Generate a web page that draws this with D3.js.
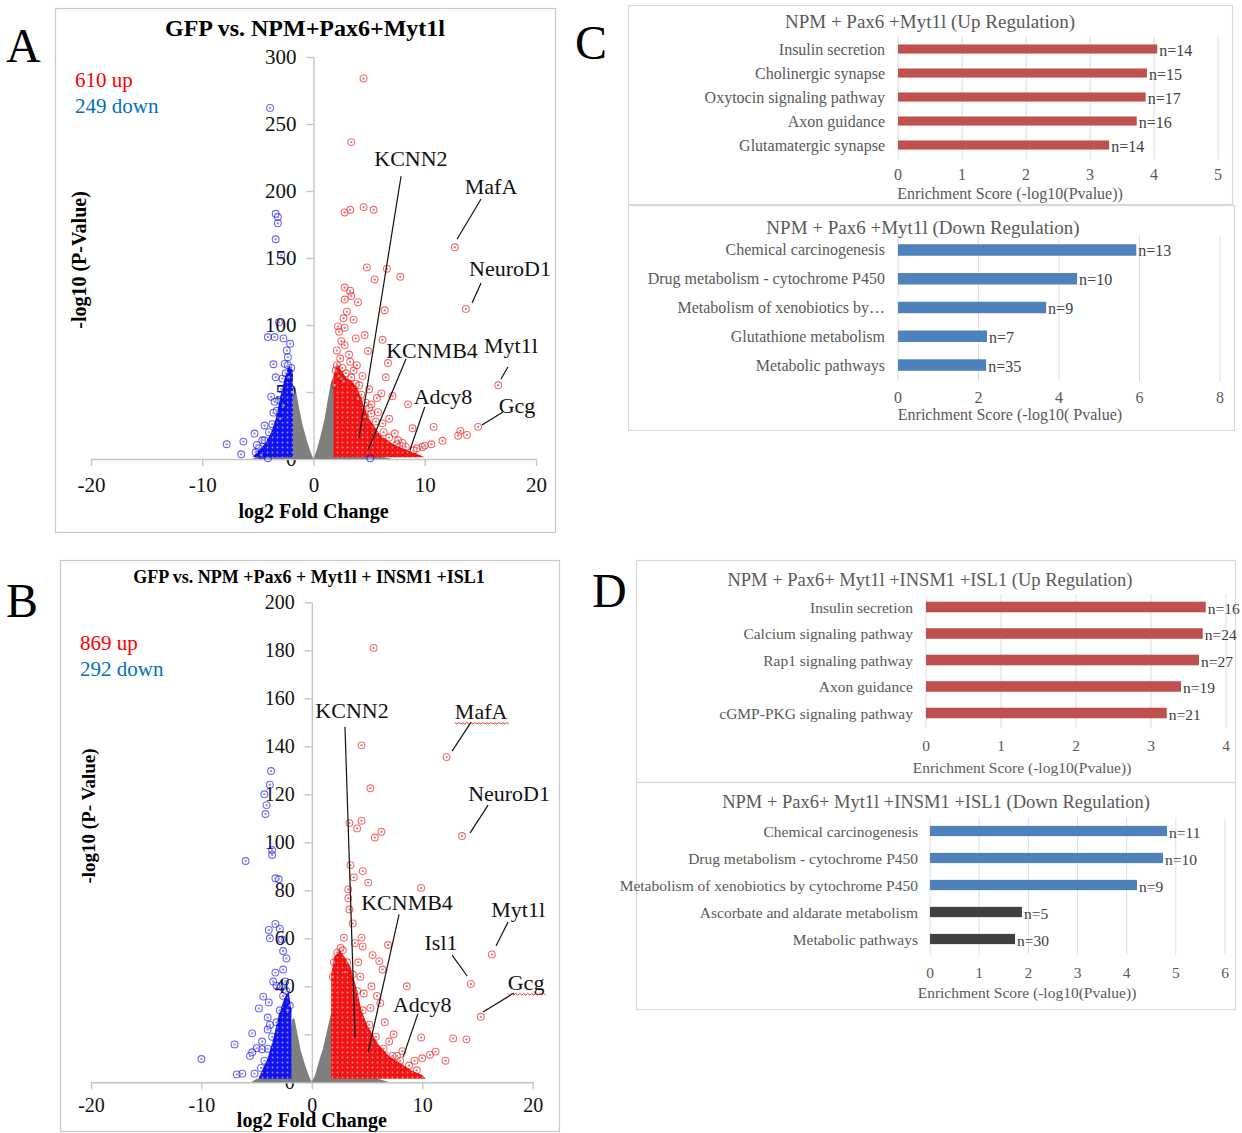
<!DOCTYPE html>
<html><head><meta charset="utf-8">
<script src="https://cdn.jsdelivr.net/npm/d3@7"></script>
<style>body{margin:0;background:#fff}svg{display:block}</style>
</head><body>
<svg id="fig" width="1242" height="1133"></svg>
<script>
// ================= DATA =================
// Panel A volcano (GFP vs NPM+Pax6+Myt1l): [log2FC, -log10 p]
const aTitle = "GFP vs. NPM+Pax6+Myt1l";
const aUpLabel = "610 up";
const aDownLabel = "249 down";
const aUpPoints = [[4.5,284],[3.4,236.5],[2.8,184],[3.3,186],[4.5,188],[5.4,186],[4.8,143],[6.6,142],
  [12.7,158],[13.7,112],[16.6,55],[14.8,24],[5.5,134],[7.8,136],[2.8,128],[3.3,125.6],[3.4,121.6],[2.8,119],
  [4.0,117],[6.4,111],[2.7,105],[3.6,104],[2.2,99],[2.8,98],[4.6,92.5],[3.8,90],[6.2,89],[2.8,85],[4.9,80.6],
  [2.1,81],[2.4,75],[6.7,71.6],[3.3,72.6],[3.6,66],[6.5,61],[2.5,60],[4.1,55],[6.1,49],[7.1,47],[5.7,45.5],
  [8.5,40.8],[5.2,40.8],[4.6,31.6],[6.2,26.6],[8.9,22.9],[7.3,19],[10.8,24],[11.6,13.6],[10.0,10],[10.6,11],
  [13.2,21],[13.8,18],[13.0,17.4],[9.3,8],[2.3,95],[3.0,110],[2.5,88],[3.9,70],[4.4,62],[5.0,52],[5.8,35],
  [6.8,30],[7.6,14],[8.0,12],[9.8,9],[3.2,78],[2.6,68],
  [2.0,66],[2.3,62],[2.9,64],[3.4,61],[3.8,56],[4.3,48],[4.7,42],[5.2,34],[5.6,28],[6.3,20],[6.8,16],[7.5,11],
  [8.3,9],[9.0,6.5],[2.1,70],[1.9,55],[2.7,58],[4.0,45],[5.0,38]];
const aDownPoints = [[-3.9,262],[-3.4,183],[-3.2,180.6],[-3.2,176],[-3.4,164],[-2.9,152],[-3.1,102],[-4.1,91],
  [-3.5,91],[-2.7,90],[-2.1,86],[-2.4,81],[-2.3,76],[-2.6,71],[-3.6,70.7],[-3.4,61],[-2.2,61],[-3.8,46.5],
  [-3.5,42.8],[-3.6,34.6],[-4.4,25],[-5.3,19],[-6.3,13],[-7.8,11],[-5.1,10.4],[-4.6,14],[-6.5,3.5],[-4.7,3],
  [-4.1,0.5],[5.1,0.5],
  [-2.0,68],[-2.3,70],[-2.5,64],[-2.9,52],[-3.1,44],[-3.3,36],[-3.7,26],[-4.0,20],[-4.4,14],[-4.9,8],[-5.2,5],
  [-3.0,30],[-2.7,40],[-1.95,50],[-2.8,60]];
// outlines of the dense (overplotted) clouds
const aGreyCloud = [[-5.5,0],[-5,2],[-4,3],[-3,4],[-2.2,6],[-2,30],[-1.8,48],[-1.6,52],[-1.3,38],[-1,26],[-0.6,14],
  [-0.3,6],[0,0],[0.3,7],[0.6,16],[1,30],[1.3,45],[1.6,58],[1.8,62],[2,30],[2.3,6],[4,4],[6,2],[7,0]];
const aRedCloud = [[1.8,1.3],[1.8,62],[2.1,72],[2.5,66],[3,60],[3.5,58],[4,52],[4.5,40],[5,30],[5.5,24],[6,18],
  [7,12],[8,8],[9,5],[9.8,2],[10,1.3]];
const aBlueCloud = [[-1.85,1.3],[-1.85,66],[-2.2,70],[-2.6,60],[-3.0,46],[-3.4,30],[-3.8,20],[-4.3,12],[-5,6],
  [-5.4,2],[-5.4,1.3]];
const aGenes = ["KCNN2","MafA","NeuroD1","KCNMB4","Myt1l","Adcy8","Gcg"];
const aYTicks = [0,50,100,150,200,250,300];

// Panel B volcano (GFP vs NPM+Pax6+Myt1l+INSM1+ISL1)
const bTitle = "GFP vs. NPM +Pax6 + Myt1l + INSM1 +ISL1";
const bUpLabel = "869 up";
const bDownLabel = "292 down";
const bUpPoints = [[5.6,181],[4.5,140.4],[5.3,122.5],[3.4,108],[4.1,105.8],[4.5,109],[6.3,104.4],[5.7,102],
  [12.2,135.5],[13.6,102.6],[16.3,53.3],[14.4,41],[15.3,27.3],[3.5,90.5],[4.6,88],[3.8,85.4],[5.1,83.2],[9.9,81],
  [3.3,80.4],[3.3,76.7],[3.4,72],[3.7,66.2],[2.9,60.3],[4.5,60.3],[4.6,56.6],[6.9,57.2],[5.5,53],[6.1,50.5],
  [6.4,47],[8.6,40],[6.2,33],[7.4,20],[7.0,17],[9.9,18.7],[12.8,18.3],[14.0,17.9],[12.1,9],[11.2,12.8],[10.7,11.5],
  [10.0,10],[9.3,9],[7.7,11],[5.4,40],[4.7,37],[5.3,31],[3.9,58],[2.6,56],[4.2,50],[5.9,36],[6.6,25],[8.2,13],
  [2.0,50],[2.3,54],[2.8,55],[3.2,50],[3.7,45],[4.1,38],[4.6,30],[5.2,24],[5.8,19],[6.5,14],[7.3,11],[8.0,9],
  [8.8,7],[9.5,5],[1.9,44],[3.0,46],[4.4,44]];
const bDownPoints = [[-3.7,129.7],[-3.8,124],[-4.3,120],[-4.1,115.5],[-4.2,111.8],[-3.6,96.8],[-3.6,94.7],
  [-6.0,92.2],[-3.3,85],[-3.0,84.6],[-3.3,66],[-3.9,63.5],[-2.9,64],[-3.8,60],[-2.7,59.5],[-2.6,54.7],[-2.3,51.6],
  [-3.3,45.7],[-2.6,47],[-3.5,42],[-3.2,40.3],[-4.4,35.7],[-3.9,33.3],[-4.8,30.8],[-4.0,27],[-3.8,23.9],[-5.4,20.4],
  [-4.0,22],[-7.0,15.8],[-4.5,17],[-5.0,14.2],[-5.4,12.5],[-5.6,11],[-10.0,9.7],[-4.5,13.8],[-6.8,3.3],[-6.3,3.6],
  [-5.2,3.6],
  [-2.0,32],[-2.3,38],[-2.6,36],[-2.9,30],[-3.2,25],[-3.6,19],[-4.0,14],[-4.3,9],[-4.6,6],[-2.2,30],[-2.4,42],[-2.8,40]];
const bGreyCloud = [[-5.5,0],[-5,1.5],[-3,2.5],[-2.1,3.5],[-2,18],[-1.8,26],[-1.6,27],[-1.3,20],[-1,13],[-0.6,7],
  [-0.3,3],[0,0],[0.3,3],[0.6,8],[1,14],[1.4,22],[1.7,28],[1.9,30],[2,10],[2.2,4],[4,3],[6,1.5],[7,0]];
const bRedCloud = [[1.75,1.5],[1.75,45],[2,52],[2.5,55],[3,52],[3.5,48],[4,40],[4.5,30],[5,24],[6,16],[7,11],
  [8,8],[9,5],[10,3],[10.3,1.5]];
const bBlueCloud = [[-1.85,1.5],[-1.85,30],[-2.1,38],[-2.5,35],[-3,28],[-3.5,18],[-4,10],[-4.5,5],[-4.8,2],[-4.8,1.5]];
const bGenes = ["KCNN2","MafA","NeuroD1","KCNMB4","Myt1l","Isl1","Gcg","Adcy8"];
const bYTicks = [0,20,40,60,80,100,120,140,160,180,200];
const volcanoXTicks = [-20,-10,0,10,20];

// Panel C / D enrichment bars
const cUpTitle = "NPM + Pax6 +Myt1l (Up Regulation)";
const cUpCats = ["Insulin secretion","Cholinergic synapse","Oxytocin signaling pathway","Axon guidance","Glutamatergic synapse"];
const cUpVals = [4.05,3.89,3.87,3.73,3.30];
const cUpN = ["n=14","n=15","n=17","n=16","n=14"];
const cUpTicks = [0,1,2,3,4,5];

const cDownTitle = "NPM + Pax6 +Myt1l (Down Regulation)";
const cDownCats = ["Chemical carcinogenesis","Drug metabolism - cytochrome P450","Metabolism of xenobiotics by…","Glutathione metabolism","Metabolic pathways"];
const cDownVals = [5.92,4.45,3.68,2.21,2.19];
const cDownN = ["n=13","n=10","n=9","n=7","n=35"];
const cDownTicks = [0,2,4,6,8];

const dUpTitle = "NPM + Pax6+ Myt1l +INSM1 +ISL1 (Up Regulation)";
const dUpCats = ["Insulin secretion","Calcium signaling pathway","Rap1 signaling pathway","Axon guidance","cGMP-PKG signaling pathway"];
const dUpVals = [3.73,3.69,3.64,3.40,3.21];
const dUpN = ["n=16","n=24","n=27","n=19","n=21"];
const dUpTicks = [0,1,2,3,4];

const dDownTitle = "NPM + Pax6+ Myt1l +INSM1 +ISL1 (Down Regulation)";
const dDownCats = ["Chemical carcinogenesis","Drug metabolism - cytochrome P450","Metabolism of xenobiotics by cytochrome P450","Ascorbate and aldarate metabolism","Metabolic pathways"];
const dDownVals = [4.82,4.74,4.21,1.87,1.73];
const dDownN = ["n=11","n=10","n=9","n=5","n=30"];
const dDownTicks = [0,1,2,3,4,5,6];

const enrichAxisTitle = "Enrichment Score (-log10(Pvalue))";
const enrichAxisTitleC2 = "Enrichment Score (-log10( Pvalue)";

// ================= DRAWING =================
const SERIF = "'Liberation Serif','Times New Roman',serif";
const svg = d3.select('#fig');
svg.append('rect').attr('width',1242).attr('height',1133).attr('fill','#fff');
const defs = svg.append('defs');
function dotPattern(id,bg,dot){
  const p = defs.append('pattern').attr('id',id).attr('width',5).attr('height',5).attr('patternUnits','userSpaceOnUse');
  p.append('rect').attr('width',5).attr('height',5).attr('fill',bg);
  p.append('circle').attr('cx',2.5).attr('cy',2.5).attr('r',0.9).attr('fill',dot);
}
dotPattern('redFill','#f41212','#d89a9a');
dotPattern('blueFill','#1212f2','#9a9ad8');

function volcano(o){
  const g = svg.append('g');
  const [fx0,fy0,fx1,fy1] = o.frame;
  g.append('rect').attr('x',fx0+0.5).attr('y',fy0+0.5).attr('width',fx1-fx0).attr('height',fy1-fy0)
    .attr('fill','none').attr('stroke','#c8c8c8').attr('stroke-width',1.2);
  const x = d3.scaleLinear().domain([-20,20]).range([o.xl,o.xr]);
  const y = d3.scaleLinear().domain([0,o.ymax]).range([o.yb,o.yt]);
  const ya = g.append('g').attr('transform',`translate(${x(0)},0)`)
    .call(d3.axisLeft(y).tickValues(o.yticks).tickSize(7).tickSizeOuter(0).tickPadding(10).tickFormat(d=>String(d)));
  const xa = g.append('g').attr('transform',`translate(0,${y(0)})`)
    .call(d3.axisBottom(x).tickValues(volcanoXTicks).tickSize(7).tickSizeOuter(0).tickPadding(o.xPad).tickFormat(d=>String(d)));
  [ya,xa].forEach(a=>{
    a.selectAll('path,line').attr('stroke','#c4c4c4').attr('stroke-width',1.4);
    a.selectAll('text').attr('font-family',SERIF).attr('font-size',o.tickFont).attr('fill','#111');
  });
  const line = d3.line().x(d=>x(d[0])).y(d=>y(d[1]));
  g.append('path').attr('d',line(o.grey)+'Z').attr('fill','#7f7f7f');
  g.append('path').attr('d',line(o.blue)+'Z').attr('fill','url(#blueFill)');
  g.append('path').attr('d',line(o.red)+'Z').attr('fill','url(#redFill)');
  function pts(data,col){
    const s = g.append('g');
    s.selectAll('circle.o').data(data).join('circle').attr('class','o')
      .attr('cx',d=>x(d[0])).attr('cy',d=>y(d[1])).attr('r',3.4)
      .attr('fill','none').attr('stroke',col).attr('stroke-opacity',0.6).attr('stroke-width',1.1);
    s.selectAll('circle.c').data(data).join('circle').attr('class','c')
      .attr('cx',d=>x(d[0])).attr('cy',d=>y(d[1])).attr('r',1.2).attr('fill','#a0a0a0');
  }
  pts(o.down,'#0000ff');
  pts(o.up,'#ff0000');
  // annotations
  o.genes.forEach((name,i)=>{
    const L = o.layout[i];
    g.append('line').attr('x1',x(L[2])).attr('y1',y(L[3])).attr('x2',x(L[4])).attr('y2',y(L[5]))
      .attr('stroke','#111').attr('stroke-width',1.2);
    const t = g.append('text').attr('x',x(L[0])).attr('y',y(L[1])).attr('text-anchor','middle')
      .attr('dominant-baseline','central').attr('font-family',SERIF).attr('font-size',o.geneFont).attr('fill','#111').text(name);
    if (o.wavy && o.wavy.includes(name)){
      const bb = t.node().getBBox();
      const yy = bb.y+bb.height-2; let d = `M${bb.x},${yy}`;
      for (let k=0, xx=bb.x; xx<bb.x+bb.width; k++, xx+=2) d += ` L${xx+2},${yy+(k%2?0:1.6)}`;
      g.append('path').attr('d',d).attr('fill','none').attr('stroke','#e02020').attr('stroke-width',0.9);
    }
  });
  // titles and counts
  g.append('text').attr('x',o.titleX).attr('y',o.titleY).attr('text-anchor','middle').attr('dominant-baseline','central')
    .attr('font-family',SERIF).attr('font-weight','bold').attr('font-size',o.titleFont).attr('fill','#000').text(o.title);
  g.append('text').attr('x',o.countX).attr('y',o.upY).attr('dominant-baseline','central')
    .attr('font-family',SERIF).attr('font-size',21).attr('fill','#ff0000').text(o.upLabel);
  g.append('text').attr('x',o.countX).attr('y',o.downY).attr('dominant-baseline','central')
    .attr('font-family',SERIF).attr('font-size',21).attr('fill','#0070c0').text(o.downLabel);
  g.append('text').attr('transform',`translate(${o.ylabX},${o.ylabY}) rotate(-90)`).attr('text-anchor','middle')
    .attr('dominant-baseline','central').attr('font-family',SERIF).attr('font-weight','bold').attr('font-size',o.ylabFont)
    .attr('fill','#000').text(o.ylab);
  g.append('text').attr('x',x(0)).attr('y',o.xlabY).attr('text-anchor','middle').attr('dominant-baseline','central')
    .attr('font-family',SERIF).attr('font-weight','bold').attr('font-size',20).attr('fill','#000').text('log2 Fold Change');
}

volcano({frame:[55,8,555,532], xl:91, xr:536, yb:459, yt:57, ymax:300, yticks:aYTicks, tickFont:21, xPad:11,
  grey:aGreyCloud, red:aRedCloud, blue:aBlueCloud, up:aUpPoints, down:aDownPoints, genes:aGenes, geneFont:22,
  layout:[[8.76,224,7.87,211,4.09,15.7],[15.96,203,15.06,194,12.9,164],[17.66,141.8,15.06,131.3,14.25,116.4],
    [10.65,81.3,8.31,74.6,4.9,6.7],[17.75,85,17.48,68.7,16.85,59.7],[11.64,47,10.0,38.8,8.67,6.7],
    [18.29,39.6,17.03,35.1,15.15,25.4]],
  title:aTitle, titleX:305, titleY:28, titleFont:24, upLabel:aUpLabel, downLabel:aDownLabel, countX:75, upY:80, downY:106,
  ylab:"-log10 (P-Value)", ylabX:79, ylabY:260, ylabFont:20, xlabY:511});

volcano({frame:[60,560,559,1131], xl:91, xr:532.7, yb:1082.3, yt:602.3, ymax:200, yticks:bYTicks, tickFont:20, xPad:9,
  grey:bGreyCloud, red:bRedCloud, blue:bBlueCloud, up:bUpPoints, down:bDownPoints, genes:bGenes, geneFont:22,
  layout:[[3.64,155.1,3.0,148.1,3.91,18.9],[15.33,154.3,14.42,150.1,12.7,138],[17.86,120.5,15.96,115.5,14.33,103.9],
    [8.62,75.1,7.9,70,5.1,12.6],[18.68,72.2,17.77,66.8,16.68,56.8],[11.7,58.1,12.7,53,14.06,44.3],
    [19.4,41.4,18.3,37.2,15.5,29.3],[10.0,32.6,9.6,28.5,8.26,10.5]],
  wavy:["MafA","Gcg"],
  title:bTitle, titleX:309, titleY:577, titleFont:18, upLabel:bUpLabel, downLabel:bDownLabel, countX:80, upY:643, downY:669,
  ylab:"-log10 (P- Value)", ylabX:88, ylabY:816, ylabFont:19, xlabY:1120});

function bars(o){
  const g = svg.append('g');
  const [fx0,fy0,fx1,fy1] = o.frame;
  g.append('rect').attr('x',fx0+0.5).attr('y',fy0+0.5).attr('width',fx1-fx0).attr('height',fy1-fy0)
    .attr('fill','none').attr('stroke','#d9d9d9').attr('stroke-width',1.2);
  const x = d3.scaleLinear().domain([0,o.ticks[o.ticks.length-1]]).range([o.x0,o.x1]);
  const yb = d3.scaleBand().domain(o.cats).range([o.top,o.bottom]).paddingInner(o.pad).paddingOuter(o.pad/2);
  g.selectAll('line.grid').data(o.ticks).join('line').attr('class','grid')
    .attr('x1',d=>x(d)).attr('x2',d=>x(d)).attr('y1',o.top).attr('y2',o.bottom+2).attr('stroke','#dedede').attr('stroke-width',1);
  g.selectAll('rect.bar').data(o.cats).join('rect').attr('class','bar')
    .attr('x',x(0)).attr('y',d=>yb(d)).attr('height',yb.bandwidth())
    .attr('width',(d,i)=>x(o.vals[i])-x(0)).attr('fill',(d,i)=>o.colors[i]);
  g.selectAll('text.cat').data(o.cats).join('text').attr('class','cat')
    .attr('x',x(0)-o.gap).attr('y',d=>yb(d)+yb.bandwidth()/2).attr('text-anchor','end').attr('dominant-baseline','central')
    .attr('font-family',SERIF).attr('font-size',o.catFont).attr('fill','#595959').text(d=>d);
  g.selectAll('text.n').data(o.cats).join('text').attr('class','n')
    .attr('x',(d,i)=>x(o.vals[i])+2).attr('y',d=>yb(d)+yb.bandwidth()/2+1).attr('dominant-baseline','central')
    .attr('font-family',SERIF).attr('font-size',o.catFont).attr('fill','#404040').text((d,i)=>o.n[i]);
  g.selectAll('text.tick').data(o.ticks).join('text').attr('class','tick')
    .attr('x',d=>x(d)).attr('y',o.tickY).attr('text-anchor','middle').attr('dominant-baseline','central')
    .attr('font-family',SERIF).attr('font-size',o.catFont).attr('fill','#595959').text(d=>d);
  g.append('text').attr('x',o.axX).attr('y',o.axY).attr('text-anchor','middle').attr('dominant-baseline','central')
    .attr('font-family',SERIF).attr('font-size',o.catFont).attr('fill','#595959').text(o.axTitle);
  g.append('text').attr('x',o.tX).attr('y',o.tY).attr('text-anchor','middle').attr('dominant-baseline','central')
    .attr('font-family',SERIF).attr('font-size',o.titleFont).attr('fill','#595959').text(o.title);
}
const RED = '#c0504d', BLUE = '#4f81bd', DARK = '#404040';
bars({frame:[628,5,1232,204], cats:cUpCats, vals:cUpVals, n:cUpN, ticks:cUpTicks, colors:[RED,RED,RED,RED,RED],
  x0:898, x1:1218, top:37, bottom:157, pad:0.62, gap:13, catFont:16, tickY:174, axX:1010, axY:193, axTitle:enrichAxisTitle,
  tX:930, tY:21, titleFont:19, title:cUpTitle});
bars({frame:[628,205,1234,430], cats:cDownCats, vals:cDownVals, n:cDownN, ticks:cDownTicks, colors:[BLUE,BLUE,BLUE,BLUE,BLUE],
  x0:898, x1:1220, top:235.6, bottom:379.4, pad:0.6, gap:13, catFont:16, tickY:397, axX:1010, axY:414, axTitle:enrichAxisTitleC2,
  tX:923, tY:227, titleFont:19, title:cDownTitle});
bars({frame:[636,560,1235,782], cats:dUpCats, vals:dUpVals, n:dUpN, ticks:dUpTicks, colors:[RED,RED,RED,RED,RED],
  x0:926, x1:1226, top:593.75, bottom:726.25, pad:0.6, gap:13, catFont:15.5, tickY:745, axX:1022, axY:767, axTitle:enrichAxisTitle,
  tX:930, tY:580, titleFont:18.5, title:dUpTitle});
bars({frame:[636,782,1235,1009], cats:dDownCats, vals:dDownVals, n:dDownN, ticks:dDownTicks, colors:[BLUE,BLUE,BLUE,DARK,DARK],
  x0:930, x1:1225, top:817.5, bottom:952.5, pad:0.62, gap:12, catFont:15.5, tickY:972, axX:1027, axY:992, axTitle:enrichAxisTitle,
  tX:936, tY:802, titleFont:18.5, title:dDownTitle});

// panel letters
[["A",6,62],["B",6,617],["C",575,59],["D",592,607]].forEach(([t,px,py])=>{
  svg.append('text').attr('x',px).attr('y',py).attr('font-family',SERIF).attr('font-size',48).attr('fill','#000').text(t);
});
</script>
</body></html>
